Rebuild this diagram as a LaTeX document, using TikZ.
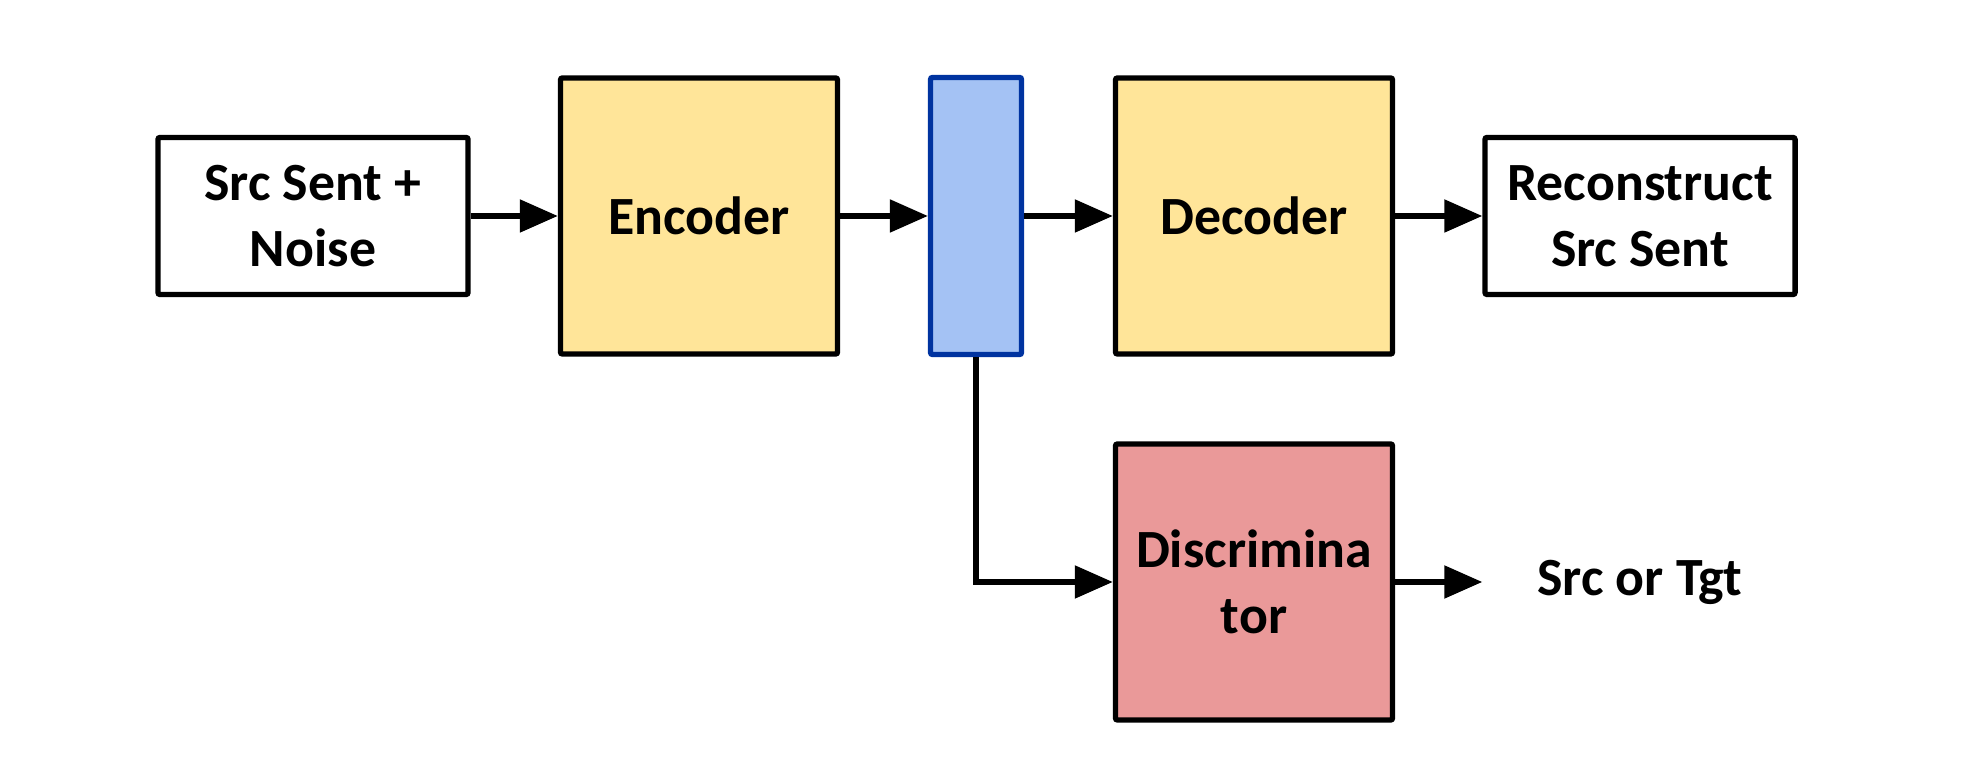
\documentclass[tikz,border=0pt]{standalone}
\usepackage{fontspec}
\setmainfont{Carlito}
\usetikzlibrary{arrows.meta}
\definecolor{encyellow}{HTML}{FFE599}
\definecolor{latentblue}{HTML}{A4C2F4}
\definecolor{latentedge}{HTML}{0033A0}
\definecolor{discred}{HTML}{EA9999}
\tikzset{
  blockbox/.style={draw=black, line width=1.5pt, rounded corners=0.6pt, align=center,
    font=\fontsize{15.3pt}{18.9pt}\selectfont\bfseries},
  textbox/.style={blockbox, minimum width=3.1cm, minimum height=1.57cm},
  bigbox/.style={blockbox, minimum width=2.77cm, minimum height=2.76cm},
  flow/.style={line width=1.5pt, -{Triangle[length=0.38cm,width=0.32cm]}}
}
\begin{document}
\begin{tikzpicture}[x=0.01cm, y=-0.01cm]
    \useasboundingbox (0,0) rectangle (1983,771);
    \node[textbox] (input) at (313,216) {Src Sent +\\Noise};
    \node[bigbox, fill=encyellow] (encoder) at (699,216) {Encoder};
    \node[blockbox, draw=latentedge, fill=latentblue, minimum width=0.91cm, minimum height=2.77cm] (latent) at (976,216) {};
    \node[bigbox, fill=encyellow] (decoder) at (1254,216) {Decoder};
    \node[textbox] (recon) at (1640,216) {Reconstruct\\Src Sent};
    \node[bigbox, fill=discred] (disc) at (1254,582) {Discrimina\\tor};
    \node[textbox, draw=none] (label) at (1640,582) {Src or Tgt};
    \draw[flow] (input) -- (encoder);
    \draw[flow] (encoder) -- (latent);
    \draw[flow] (latent) -- (decoder);
    \draw[flow] (decoder) -- (recon);
    \draw[flow] (latent.south) |- (disc.west);
    \draw[flow] (disc) -- (label);
  \end{tikzpicture}
\end{document}
